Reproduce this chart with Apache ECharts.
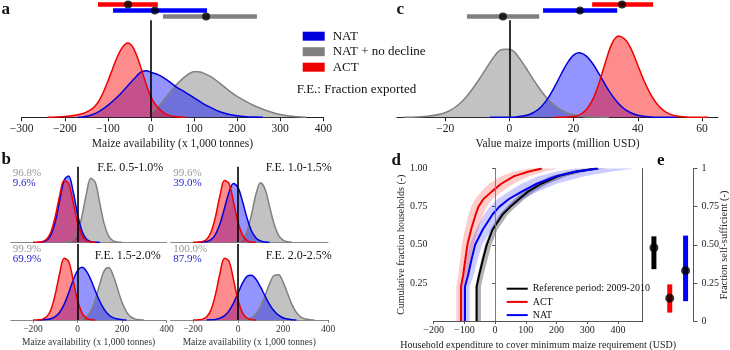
<!DOCTYPE html>
<html><head><meta charset="utf-8">
<script src="https://cdn.jsdelivr.net/npm/echarts@6/dist/echarts.min.js"></script>
<style>html,body{margin:0;padding:0;background:#fff}#c{width:730px;height:350px}</style>
</head><body><div id="c"></div>
<script>
// ---------- Panel a: maize availability densities ----------
const aActX = [-240,-220,-200,-180,-160,-140,-130,-120,-110,-100,-90,-80,-70,-60,-53,-45,-40,-30,-20,-10,0,10,20,30,40,60,80];
const aActY = [0,0.3,0.8,1.8,3.5,7.5,11,17,25.6,36,47.4,58.5,67.5,73.1,74.3,72.1,68.7,58.3,45,31.8,20.4,13,8,4.5,2.2,0.5,0];
const aNatX = [-170,-160,-140,-120,-100,-80,-60,-40,-20,-10,0,20,40,60,80,100,120,140,160,180,200,220,240,260];
const aNatY = [0,0.3,2,6,12,19.5,28.5,38,46,46.5,45,42,36.5,30,25,19.5,14,9.5,5.5,3,1.5,0.6,0.2,0];
const aGrayX = [0,10,20,40,60,80,100,110,120,140,160,180,200,220,240,260,280,300,320,340,360];
const aGrayY = [4,8,12,23,33,41,45.5,45.6,44.5,40.5,34,27,21,16,11.5,8,5,2.8,1.3,0.5,0];
const aTicks = [-300,-200,-100,0,100,200,300,400];
// error bars (order: ACT, NAT, NAT + no decline)
const barNames = ['ACT','NAT','NAT + no decline'];
const aBarLo = [-123,-88,28];
const aBarHi = [16,130,246];
const aBarMid = [-53,9,128];

// ---------- Panel b: four F.E. classes ----------
const bX = [-200,-180,-160,-140,-120,-100,-80,-60,-40,-20,0,20,40,60,80,100,120,140,160,180,200,220,240,260,280,300,320,340];
const bAct = [0,0.1,0.6,2.9,10.1,25.6,46.8,61.8,58.8,40.4,20,7.2,1.8,0.3,0,null,null,null,null,null,null,null,null,null,null,null,null,null];
const bNat1 = [null,0,0.3,1.8,7.2,20.5,42,62.1,66.3,51.1,28.4,11.4,3.3,0.7,0.1,0,null,null,null,null,null,null,null,null,null,null,null,null];
const bGray1 = [null,null,null,null,null,null,null,0,0.5,2.7,9.9,26,48.5,64,59.7,39.4,18.4,6.1,1.4,0.2,0,null,null,null,null,null,null,null];
const bNat2 = [null,0,0.2,0.8,2.7,8,18.5,34.1,50.1,58.7,54.9,40.9,24.3,11.5,4.3,1.3,0.3,0,null,null,null,null,null,null,null,null,null,null];
const bGray2 = [null,null,null,null,null,null,null,null,null,0,0.7,3.2,11.3,27.8,48.3,59.5,53.3,36.2,18.6,7.2,2.1,0.5,0,null,null,null,null,null];
const bNat3 = [null,0,0.1,0.4,1.2,3.3,7.7,15.6,26.9,39.5,49.4,52.7,48.9,40.2,29.2,18.7,10.6,5.3,2.4,0.9,0.3,0,null,null,null,null,null,null];
const bGray3 = [null,null,null,null,null,null,null,null,null,null,0,0.8,3.1,9.1,20.5,35.9,49.1,52.4,44.8,31.2,17.7,8.2,3.1,0.9,0.2,0,null,null];
const bNat4 = [null,null,null,0,0.2,0.6,1.7,4.3,9.1,16.8,26.8,36.8,43.6,44.7,40.7,33.1,24.1,15.7,9.2,4.8,2.2,0.9,0.3,0,null,null,null,null];
const bGray4 = [null,null,null,null,null,null,null,null,null,null,null,0,0.7,2.4,6.2,13.5,24.3,36.1,44.5,45.3,38.2,26.7,15.4,7.4,2.9,1,0.3,0];
const bTicks = [-200,0,200,400];
const bTitles = ['F.E. 0.5-1.0%','F.E. 1.0-1.5%','F.E. 1.5-2.0%','F.E. 2.0-2.5%'];
const bPctGray = ['96.8%','99.6%','99.9%','100.0%'];
const bPctBlue = ['9.6%','39.0%','69.9%','87.9%'];

// ---------- Panel c: value of maize imports ----------
const cGrayX = [-33,-29,-25,-21,-19,-17,-15,-13,-11,-9,-7,-5,-3,-1,1,3,5,7,9,11,13,15,17,19,23,27,31];
const cGrayY = [0,0.3,1.2,3.6,6,9.8,15,22,30.5,40,50,59.6,66.9,68,66.9,59.6,50.3,40.2,30.5,21.9,14.9,9.6,5.9,3.4,0.9,0.2,0];
const cNatX = [-6,0,2,4,6,8,10,12,14,16,18,20,21.7,24,26,28,30,32,34,36,38,40,44,48,52];
const cNatY = [0,0.1,0.4,1.2,2.6,5.6,10.9,19,29.9,42.3,54,62.2,64.6,61.2,53.5,43.1,32,21.9,13.8,8,4.3,2.1,0.4,0.05,0];
const cActX = [14,18,20,22,24,26,28,30,32,34,36,38,40,42,44,46,48,50,52,55,58,62];
const cActY = [0,0.2,0.8,2.7,7.7,17.9,34.7,55.7,74,81.3,78,68,52,36.3,23.1,13.3,6.9,3.2,1.4,0.4,0.1,0];
const cTicks = [-20,0,20,40,60];
const cBarLo = [25.8,10.5,-13.2];
const cBarHi = [44.8,33.6,9.3];
const cBarMid = [35.1,22,-2];

// ---------- Panel d: cumulative household expenditure ----------
const dY = [0,0.1,0.225,0.3,0.4,0.5,0.6,0.7,0.75,0.8,0.85,0.9,0.95,0.98,1.0];
const dRef = [-60,-60,-60,-52,-40,-27,-8,25,50,78,108,150,205,265,330];
const dNat = [-98,-98,-98,-88,-77,-65,-40,-8,14,45,88,135,200,265,335];
const dAct = [-111,-111,-111,-104,-97,-90,-78,-63,-54,-38,-10,20,62,110,152];
const dActLo = [-126,-126,-126,-120,-114,-108,-98,-86,-78,-65,-45,-20,20,60,110];
const dActHi = [-100,-100,-100,-90,-80,-70,-55,-38,-27,-8,22,60,110,160,205];
const dNatLo = [-112,-112,-112,-103,-93,-83,-62,-35,-18,8,45,85,140,200,260];
const dNatHi = [-83,-83,-83,-70,-57,-42,-12,28,55,90,140,200,290,380,450];
const dRefLo = [-64,-64,-64,-57,-45,-33,-15,15,38,63,92,130,180,240,300];
const dRefHi = [-46,-46,-46,-38,-25,-12,8,42,68,96,128,172,232,295,360];
const dXTicks = [-200,-100,0,100,200,300,400];
const dYTicks = [0.25,0.5,0.75,1];

// ---------- Panel e: fraction self-sufficient ----------
const eCats = ['Reference','ACT','NAT'];
const eLo = [0.34,0.055,0.13];
const eHi = [0.555,0.24,0.56];
const eMid = [0.48,0.15,0.33];
const eYTicks = [0,0.25,0.5,0.75,1];

// ---------- styles ----------
const SERIF = '"Liberation Serif", "Times New Roman", serif';
const RED = '#ee0000', BLUE = '#0000dd', GRAY = '#808080';
const RED_F = 'rgba(255,0,0,0.45)', BLUE_F = 'rgba(0,0,255,0.42)', GRAY_F = 'rgba(128,128,128,0.48)';
const barColors = ['#ff0000','#0000ff','#808080'];
const eColors = ['#000000','#ff0000','#0000ff'];
const minus = v => (v < 0 ? '\u2212' + (-v) : String(v));
const zip = (xs, ys) => xs.map((x, i) => [x, ys[i]]);

const zeroLine = (color, width) => ({
  silent: true, symbol: ['none','none'], label: {show: false}, animation: false,
  lineStyle: {color, width, type: 'solid'}, emphasis: {disabled: true},
  data: [{xAxis: 0}]
});

function dens(name, color, fill, gi, data, extra) {
  return Object.assign({
    type: 'line', name, xAxisIndex: gi, yAxisIndex: gi, data,
    smooth: 0.35, symbol: 'none', showSymbol: false, connectNulls: false,
    lineStyle: {color, width: 1.5}, itemStyle: {color}, areaStyle: {color: fill, opacity: 1},
    silent: true, animation: false
  }, extra || {});
}

const grids = [
  {left: 21.7, top: 20.3, width: 301.6, height: 97},     // 0 a
  {left: 21.7, top: 1.5, width: 301.6, height: 18},      // 1 a bars
  {left: 10.75, top: 166.7, width: 155.75, height: 75.6},// 2 b TL
  {left: 170.5, top: 166.7, width: 157.5, height: 75.6}, // 3 b TR
  {left: 10.75, top: 244, width: 155.75, height: 76},    // 4 b BL
  {left: 170.5, top: 244, width: 157.5, height: 76},     // 5 b BR
  {left: 397, top: 20.3, width: 321, height: 97},        // 6 c
  {left: 397, top: 1.5, width: 321, height: 18},         // 7 c bars
  {left: 433.6, top: 168.5, width: 209.1, height: 152.5},// 8 d
  {left: 646, top: 168.5, width: 47.5, height: 152.5}    // 9 e
].map(g => Object.assign({outerBoundsMode: 'none', containLabel: false}, g));

const mainX = (gi, min, max, ticks, name) => ({
  type: 'value', gridIndex: gi, min, max,
  axisLine: {show: true, onZero: false, lineStyle: {color: '#222', width: 1}},
  axisTick: {show: true, length: 4, customValues: ticks, lineStyle: {color: '#222'}},
  axisLabel: {show: true, customValues: ticks, formatter: minus, fontSize: 11.5, color: '#222', margin: 6, fontFamily: SERIF},
  splitLine: {show: false},
  name, nameLocation: 'middle', nameGap: 21,
  nameTextStyle: {fontSize: 11.5, color: '#222', fontFamily: SERIF}
});
const hiddenX = (gi, min, max) => ({type: 'value', gridIndex: gi, min, max, show: false});
const bXAxis = (gi, bottom) => ({
  type: 'value', gridIndex: gi, min: -300, max: 400,
  axisLine: {show: true, onZero: false, lineStyle: {color: '#888', width: 1}},
  axisTick: {show: bottom, length: 3, customValues: bTicks, lineStyle: {color: '#888'}},
  axisLabel: {show: bottom, customValues: bTicks, formatter: minus, fontSize: 9.5, color: '#333', margin: 4, fontFamily: SERIF},
  splitLine: {show: false},
  name: bottom ? 'Maize availability (x 1,000 tonnes)' : '', nameLocation: 'middle', nameGap: 17,
  nameTextStyle: {fontSize: 9.5, color: '#333', fontFamily: SERIF}
});
const hiddenY = (gi, max) => ({type: 'value', gridIndex: gi, min: 0, max, show: false});
const catY = gi => ({type: 'category', gridIndex: gi, data: barNames, inverse: true, show: false});

const xAxis = [
  mainX(0, -300, 400, aTicks, 'Maize availability (x 1,000 tonnes)'),
  hiddenX(1, -300, 400),
  bXAxis(2, false), bXAxis(3, false), bXAxis(4, true), bXAxis(5, true),
  mainX(6, -35, 65, cTicks, 'Value maize imports (million USD)'),
  hiddenX(7, -35, 65),
  {
    type: 'value', gridIndex: 8, min: -200, max: 480,
    axisLine: {show: true, onZero: false, lineStyle: {color: '#555'}},
    axisTick: {show: true, length: 3, customValues: dXTicks, lineStyle: {color: '#555'}},
    axisLabel: {customValues: dXTicks, formatter: minus, fontSize: 10, color: '#222', margin: 4, fontFamily: SERIF},
    splitLine: {show: false},
    name: 'Household expenditure to cover minimum maize requirement (USD)', nameLocation: 'middle', nameGap: 19,
    nameTextStyle: {fontSize: 10, color: '#222', fontFamily: SERIF}
  },
  {type: 'category', gridIndex: 9, data: eCats, boundaryGap: true, show: false}
];

const yAxis = [
  hiddenY(0, 97), catY(1),
  hiddenY(2, 75.6), hiddenY(3, 75.6), hiddenY(4, 76), hiddenY(5, 76),
  hiddenY(6, 97), catY(7),
  {
    type: 'value', gridIndex: 8, min: 0, max: 1, position: 'left',
    axisLine: {show: true, lineStyle: {color: '#555'}},
    axisTick: {show: true, length: 3, customValues: dYTicks, lineStyle: {color: '#555'}},
    axisLabel: {customValues: dYTicks, formatter: v => v.toFixed(2), fontSize: 10, color: '#222', margin: 6, fontFamily: SERIF},
    splitLine: {show: false},
    name: 'Cumulative fraction households (-)', nameLocation: 'middle', nameGap: 27,
    nameTextStyle: {fontSize: 10, color: '#222', fontFamily: SERIF}
  },
  {
    type: 'value', gridIndex: 8, min: 0, max: 1, position: 'right',
    axisLine: {show: true, lineStyle: {color: '#555'}},
    axisTick: {show: false}, axisLabel: {show: false}, splitLine: {show: false}
  },
  {
    type: 'value', gridIndex: 9, min: 0, max: 1, position: 'right',
    axisLine: {show: true, lineStyle: {color: '#555'}},
    axisTick: {show: true, length: 4, customValues: eYTicks, lineStyle: {color: '#555'}},
    axisLabel: {customValues: eYTicks, formatter: v => (v === 0 ? '0' : v === 1 ? '1' : v.toFixed(2)), fontSize: 10, color: '#222', margin: 8, fontFamily: SERIF},
    splitLine: {show: false}
  }
];

function errBars(gi, lo, hi, colors) {
  return {
    type: 'custom', xAxisIndex: gi, yAxisIndex: gi, silent: true, animation: false,
    data: lo.map((v, i) => [v, hi[i], i]), encode: {x: [0, 1], y: 2},
    renderItem: (params, api) => {
      const p1 = api.coord([api.value(0), api.value(2)]);
      const p2 = api.coord([api.value(1), api.value(2)]);
      return {type: 'line', shape: {x1: p1[0], y1: p1[1], x2: p2[0], y2: p2[1]},
        style: {stroke: colors[params.dataIndex], lineWidth: 4.5, lineCap: 'butt'}};
    }
  };
}
function dots(gi, mids) {
  return {type: 'scatter', xAxisIndex: gi, yAxisIndex: gi, silent: true, animation: false,
    data: mids.map((m, i) => [m, i]), symbolSize: 8, itemStyle: {color: '#000'}, z: 5};
}
function band(lo, hi, fill) {
  return {
    type: 'custom', xAxisIndex: 8, yAxisIndex: 8, silent: true, animation: false,
    data: dY.map((y, i) => [lo[i], hi[i], y]), encode: {x: [0, 1], y: 2},
    renderItem: (params, api) => {
      if (params.dataIndex !== 0) return null;
      const pts = [];
      for (let i = 0; i < dY.length; i++) pts.push(api.coord([lo[i], dY[i]]));
      for (let i = dY.length - 1; i >= 0; i--) pts.push(api.coord([hi[i], dY[i]]));
      return {type: 'polygon', shape: {points: pts}, style: {fill, stroke: null}};
    }
  };
}
const cdf = (name, xs, color) => ({
  type: 'line', name, xAxisIndex: 8, yAxisIndex: 8, data: dY.map((y, i) => [xs[i], y]),
  symbol: 'none', showSymbol: false, lineStyle: {color, width: 2}, itemStyle: {color},
  silent: true, animation: false, z: 4
});

const series = [
  // a
  dens('NAT + no decline', GRAY, GRAY_F, 0, zip(aGrayX, aGrayY)),
  dens('NAT', BLUE, BLUE_F, 0, zip(aNatX, aNatY)),
  dens('ACT', RED, RED_F, 0, zip(aActX, aActY), {markLine: zeroLine('#000', 1.6)}),
  errBars(1, aBarLo, aBarHi, barColors), dots(1, aBarMid),
  // b
  dens('', GRAY, GRAY_F, 2, zip(bX, bGray1)), dens('', BLUE, BLUE_F, 2, zip(bX, bNat1)),
  dens('', RED, RED_F, 2, zip(bX, bAct), {markLine: zeroLine('#000', 1.6)}),
  dens('', GRAY, GRAY_F, 3, zip(bX, bGray2)), dens('', BLUE, BLUE_F, 3, zip(bX, bNat2)),
  dens('', RED, RED_F, 3, zip(bX, bAct), {markLine: zeroLine('#000', 1.6)}),
  dens('', GRAY, GRAY_F, 4, zip(bX, bGray3)), dens('', BLUE, BLUE_F, 4, zip(bX, bNat3)),
  dens('', RED, RED_F, 4, zip(bX, bAct), {markLine: zeroLine('#000', 1.6)}),
  dens('', GRAY, GRAY_F, 5, zip(bX, bGray4)), dens('', BLUE, BLUE_F, 5, zip(bX, bNat4)),
  dens('', RED, RED_F, 5, zip(bX, bAct), {markLine: zeroLine('#000', 1.6)}),
  // c
  dens('', GRAY, GRAY_F, 6, zip(cGrayX, cGrayY), {markLine: zeroLine('#000', 1.6)}),
  dens('', BLUE, BLUE_F, 6, zip(cNatX, cNatY)),
  dens('', RED, RED_F, 6, zip(cActX, cActY)),
  errBars(7, cBarLo, cBarHi, barColors), dots(7, cBarMid),
  // d
  band(dRefLo, dRefHi, 'rgba(0,0,0,0.3)'),
  band(dNatLo, dNatHi, 'rgba(0,0,255,0.2)'),
  band(dActLo, dActHi, 'rgba(255,0,0,0.2)'),
  Object.assign(cdf('Reference period: 2009-2010', dRef, '#000'), {markLine: zeroLine('#888', 0.8)}),
  cdf('NAT (d)', dNat, '#0000ee'),
  cdf('ACT (d)', dAct, '#ee0000'),
  // e
  {
    type: 'custom', xAxisIndex: 9, yAxisIndex: 10, silent: true, animation: false,
    data: eLo.map((v, i) => [i, v, eHi[i]]), encode: {x: 0, y: [1, 2]},
    renderItem: (params, api) => {
      const p1 = api.coord([api.value(0), api.value(1)]);
      const p2 = api.coord([api.value(0), api.value(2)]);
      return {type: 'line', shape: {x1: p1[0], y1: p1[1], x2: p2[0], y2: p2[1]},
        style: {stroke: eColors[params.dataIndex], lineWidth: 5, lineCap: 'butt'}};
    }
  },
  {type: 'scatter', xAxisIndex: 9, yAxisIndex: 10, silent: true, animation: false,
    data: eMid.map((m, i) => [i, m]), symbolSize: 9, itemStyle: {color: '#000'}, z: 5}
];

const txt = (text, x, y, opt, extra) => Object.assign({
  type: 'text', x, y, silent: true, z: 100,
  style: Object.assign({text, fontFamily: SERIF, fontSize: 12, fill: '#111', align: 'left', verticalAlign: 'middle'}, opt || {})
}, extra || {});
const graphic = [
  txt('a', 1.5, 9.5, {fontSize: 17, fontWeight: 'bold'}),
  txt('b', 1.5, 159.4, {fontSize: 17, fontWeight: 'bold'}),
  txt('c', 396.5, 9.5, {fontSize: 17, fontWeight: 'bold'}),
  txt('d', 391.5, 160.4, {fontSize: 17, fontWeight: 'bold'}),
  txt('e', 657, 160.4, {fontSize: 17, fontWeight: 'bold'}),
  txt('F.E.: Fraction exported', 296.7, 89.3, {fontSize: 13}),
  txt('Fraction self-sufficient (-)', 724.5, 245, {fontSize: 10.5, align: 'center', fill: '#222'}, {rotation: Math.PI / 2}),
  txt(bTitles[0], 163.3, 168.3, {align: 'right'}),
  txt(bTitles[1], 331.7, 168.3, {align: 'right'}),
  txt(bTitles[2], 160.7, 256, {align: 'right'}),
  txt(bTitles[3], 331.7, 256, {align: 'right'}),
  txt(bPctGray[0], 12.7, 173.3, {fontSize: 11, fill: '#999'}),
  txt(bPctBlue[0], 12.7, 183.3, {fontSize: 11, fill: '#2424d0'}),
  txt(bPctGray[1], 173.3, 173.3, {fontSize: 11, fill: '#999'}),
  txt(bPctBlue[1], 173.3, 183.3, {fontSize: 11, fill: '#2424d0'}),
  txt(bPctGray[2], 12.7, 248.7, {fontSize: 11, fill: '#999'}),
  txt(bPctBlue[2], 12.7, 258.7, {fontSize: 11, fill: '#2424d0'}),
  txt(bPctGray[3], 173.3, 248.7, {fontSize: 11, fill: '#999'}),
  txt(bPctBlue[3], 173.3, 258.7, {fontSize: 11, fill: '#2424d0'})
];

const chart = echarts.init(document.getElementById('c'), null, {renderer: 'canvas'});
chart.setOption({
  animation: false,
  backgroundColor: '#fff',
  textStyle: {fontFamily: SERIF},
  grid: grids, xAxis, yAxis, series, graphic,
  legend: [
    {
      data: ['NAT','NAT + no decline','ACT'], orient: 'vertical', left: 297.7, top: 24.7,
      itemWidth: 22, itemHeight: 9, itemGap: 2.5, icon: 'rect', selectedMode: false,
      itemStyle: {borderWidth: 0},
      textStyle: {fontFamily: SERIF, fontSize: 13, color: '#111', lineHeight: 13, padding: [0, 0, 0, 3]}
    },
    {
      data: ['Reference period: 2009-2010','ACT (d)','NAT (d)'], orient: 'vertical', left: 501.7, top: 278.7,
      itemWidth: 21, itemHeight: 2, itemGap: 3.2, selectedMode: false, icon: 'rect',
      itemStyle: {borderWidth: 0},
      formatter: n => n.replace(' (d)', ''),
      textStyle: {fontFamily: SERIF, fontSize: 10, color: '#111', lineHeight: 10}
    }
  ]
});
</script></body></html>
